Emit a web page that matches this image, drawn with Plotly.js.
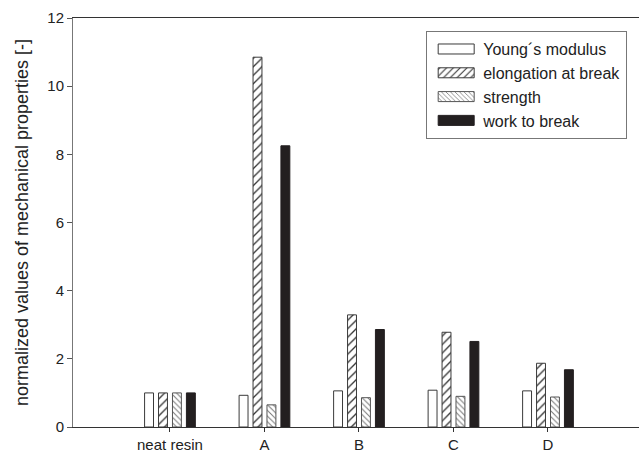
<!DOCTYPE html>
<html>
<head>
<meta charset="utf-8">
<script src="https://cdn.plot.ly/plotly-3.0.1.min.js"></script>
<style>html,body{margin:0;padding:0;background:#fff;}#chart{width:639px;height:456px;}</style>
</head>
<body>
<div id="chart"></div>
<script>
var categories = ["neat resin", "A", "B", "C", "D"];
var youngsModulus = [1.0, 0.93, 1.06, 1.08, 1.06];
var elongationAtBreak = [1.0, 10.85, 3.29, 2.78, 1.87];
var strength = [1.0, 0.65, 0.86, 0.9, 0.88];
var workToBreak = [1.0, 8.25, 2.86, 2.51, 1.68];
var seriesNames = ["Young\u00b4s modulus", "elongation at break", "strength", "work to break"];
var yTickVals = [0, 2, 4, 6, 8, 10, 12];

var outline = {color: "#3a3a3a", width: 1};
var traces = [
  {type: "bar", name: seriesNames[0], x: categories, y: youngsModulus,
   marker: {color: "#ffffff", line: outline}},
  {type: "bar", name: seriesNames[1], x: categories, y: elongationAtBreak,
   marker: {color: "#ffffff", line: outline,
     pattern: {shape: "/", size: 6, solidity: 0.22, fgcolor: "#333333", bgcolor: "#ffffff", fillmode: "replace"}}},
  {type: "bar", name: seriesNames[2], x: categories, y: strength,
   marker: {color: "#ffffff", line: {color: "#555555", width: 1},
     pattern: {shape: "\\", size: 4, solidity: 0.25, fgcolor: "#777777", bgcolor: "#ffffff", fillmode: "replace"}}},
  {type: "bar", name: seriesNames[3], x: categories, y: workToBreak,
   marker: {color: "#231f20", line: {color: "#231f20", width: 1}}}
];

var layout = {
  width: 639, height: 456,
  margin: {l: 73, r: 0, t: 18, b: 29, pad: 0},
  paper_bgcolor: "#ffffff", plot_bgcolor: "#ffffff",
  font: {family: "Liberation Sans, Arial, sans-serif", color: "#222222", size: 15},
  barmode: "group", bargap: 0.41, bargroupgap: 0.36,
  showlegend: true,
  legend: {x: 0.624, y: 0.968, xanchor: "left", yanchor: "top",
    bgcolor: "#ffffff", bordercolor: "#777777", borderwidth: 1,
    font: {size: 16, color: "#222222"}, tracegroupgap: 0, itemwidth: 46,
    traceorder: "normal"},
  xaxis: {type: "category", range: [-1.026, 4.963], showgrid: false, zeroline: false,
    showline: true, linecolor: "#333333", linewidth: 1, mirror: true,
    ticks: "outside", ticklen: 4, tickcolor: "#333333", tickfont: {size: 15}},
  yaxis: {range: [0, 12], tickvals: yTickVals, showgrid: false, zeroline: false,
    showline: true, linecolor: "#777777", linewidth: 1,
    ticks: "outside", ticklen: 5, tickcolor: "#555555", tickfont: {size: 15},
    title: {text: "normalized values of mechanical properties [-]", font: {size: 18}, standoff: 14}}
};

Plotly.newPlot("chart", traces, layout, {displayModeBar: false, staticPlot: true}).then(function(gd){
  var paths = gd.querySelectorAll(".legend .legendpoints path");
  paths.forEach(function(p){ p.setAttribute("d", "M-17,5H19V-5H-17Z"); });
});
</script>
</body>
</html>
